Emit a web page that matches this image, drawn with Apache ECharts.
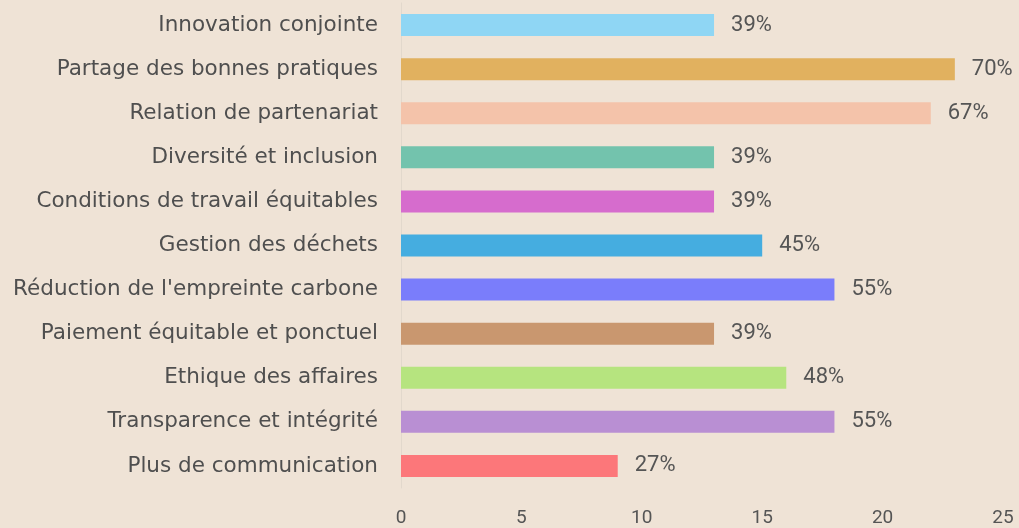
<!DOCTYPE html>
<html>
<head>
<meta charset="utf-8">
<script src="https://cdn.jsdelivr.net/npm/echarts@6/dist/echarts.min.js"></script>
<style>
  html, body { margin: 0; padding: 0; background: #efe3d6; }
  #chart { width: 1019px; height: 528px; }
</style>
</head>
<body>
<div id="chart"></div>
<script>
// top to bottom, as in the picture
const categories = [
  'Innovation conjointe',
  'Partage des bonnes pratiques',
  'Relation de partenariat',
  'Diversité et inclusion',
  'Conditions de travail équitables',
  'Gestion des déchets',
  "Réduction de l'empreinte carbone",
  'Paiement équitable et ponctuel',
  'Ethique des affaires',
  'Transparence et intégrité',
  'Plus de communication'
]
const counts = [13, 23, 22, 13, 13, 15, 18, 13, 16, 18, 9]
const percents = ['39%', '70%', '67%', '39%', '39%', '45%', '55%', '39%', '48%', '55%', '27%']
const colors = [
  '#8fd6f4', '#e1b15f', '#f4c3aa', '#73c3ad', '#d66ccd', '#45ade0',
  '#7a7dfb', '#c9976f', '#b6e47f', '#b98fd3', '#fc777a'
]
const xTicks = [0, 5, 10, 15, 20, 25]

let chart = echarts.init(document.getElementById('chart'))

let option = {
  backgroundColor: '#efe3d6',
  animation: false,
  grid: {
    left: 401,
    right: 16,
    top: 3,
    bottom: 40
  },
  xAxis: {
    type: 'value',
    min: xTicks[0],
    max: xTicks[xTicks.length - 1],
    interval: 5,
    splitLine: { show: false },
    axisLine: { show: false },
    axisTick: { show: false },
    axisLabel: {
      color: '#555',
      fontFamily: 'Roboto',
      fontSize: 19,
      margin: 21
    }
  },
  yAxis: {
    type: 'category',
    inverse: true,
    data: categories,
    axisLine: { show: true, lineStyle: { color: '#e2d8cc' } },
    axisTick: { show: false },
    axisLabel: {
      color: '#4f4f4f',
      fontFamily: 'DejaVu Sans',
      fontSize: 21.5,
      margin: 23
    }
  },
  series: [
    {
      type: 'bar',
      barWidth: 22,
      data: counts.map(function (v, i) {
        return { value: v, itemStyle: { color: colors[i] } }
      }),
      label: {
        show: true,
        position: 'right',
        distance: 17,
        color: '#555',
        fontFamily: 'Roboto',
        fontSize: 22,
        formatter: function (p) {
          return percents[p.dataIndex]
        }
      }
    }
  ]
}

chart.setOption(option)
</script>
</body>
</html>
